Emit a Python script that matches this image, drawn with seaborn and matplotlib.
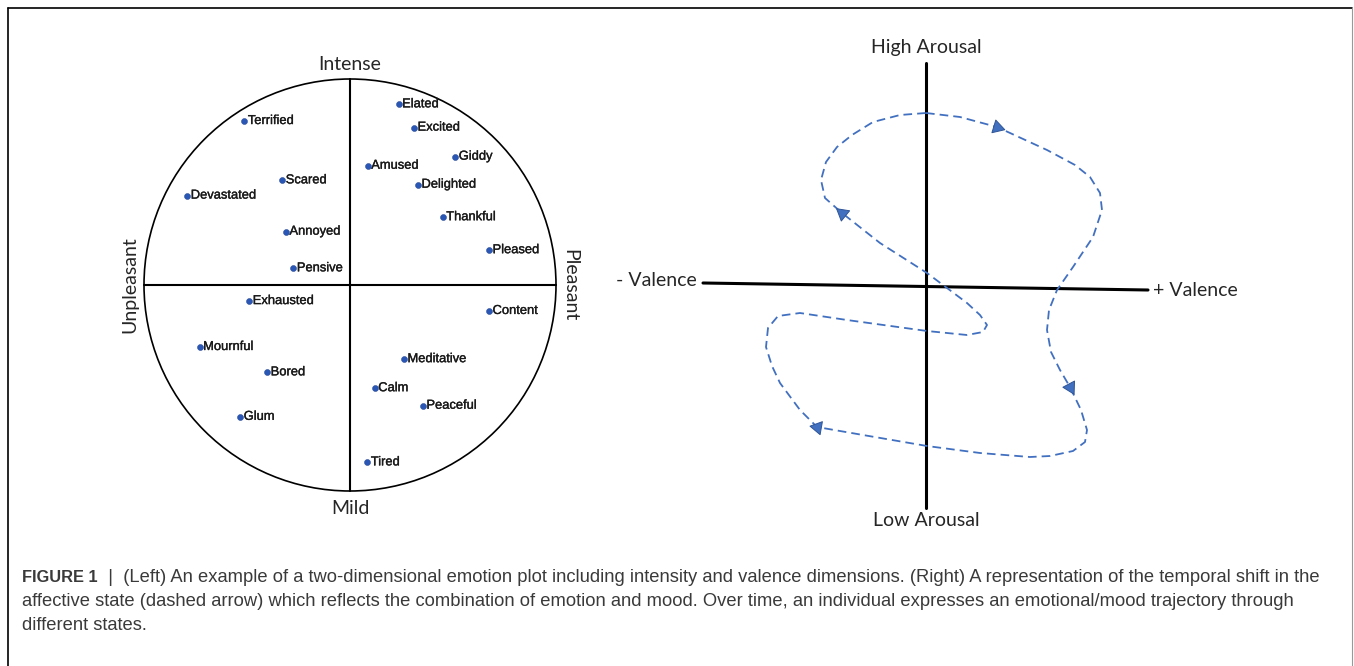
import numpy as np
import pandas as pd
import matplotlib
matplotlib.use("Agg")
import matplotlib.pyplot as plt
import matplotlib.patheffects as pe
import seaborn as sns
from matplotlib.patches import Circle
from matplotlib.lines import Line2D

# emotion words on the left circle (unit radius, x = valence, y = intensity)
emotions = ["Terrified", "Scared", "Devastated", "Annoyed", "Pensive",
            "Elated", "Excited", "Giddy", "Amused", "Delighted", "Thankful", "Pleased",
            "Exhausted", "Mournful", "Bored", "Glum",
            "Content", "Meditative", "Calm", "Peaceful", "Tired"]
valence = [-0.513, -0.329, -0.790, -0.311, -0.275,
           0.236, 0.311, 0.511, 0.086, 0.330, 0.450, 0.675,
           -0.489, -0.730, -0.402, -0.533,
           0.675, 0.262, 0.120, 0.354, 0.084]
intensity = [0.796, 0.508, 0.434, 0.259, 0.081,
             0.877, 0.764, 0.623, 0.579, 0.487, 0.329, 0.169,
             -0.078, -0.301, -0.424, -0.640,
             -0.126, -0.360, -0.501, -0.586, -0.861]

# dashed mood trajectory on the right panel (closed loop)
traj_x = [0, 34, 71, 121, 149, 164, 174, 176, 167, 147, 131, 123, 121, 125, 134, 144,
          155, 161, 159, 147, 124, 104, 54, 1, -63, -109, -126, -146, -154, -160, -158,
          -148, -126, -79, 1, 41, 57, 61, 54, 41, 1, -46, -84, -101, -105, -100, -89,
          -74, -53, -26, 0]
traj_y = [172, 168, 158, 135, 120, 108, 92, 75, 48, 18, -5, -25, -45, -67, -85, -102,
          -125, -145, -157, -166, -171, -172, -168, -161, -150, -142, -125, -98, -81, -62,
          -43, -31, -28, -35, -46, -50, -47, -40, -30, -18, 12, 42, 72, 87, 105, 123, 138,
          150, 163, 170, 172]
arrow_x = [71, 144, -109, -84]
arrow_y = [158, -102, -142, 72]
arrow_angle = [-17, -62, 170, 141]

# axes of the right panel
valence_axis_x = [-223, 222]
valence_axis_y = [2, -5]
arousal_axis_x = [0, 0]
arousal_axis_y = [222, -223]

caption_bold = "FIGURE 1"
caption_lines = [
    "  |  (Left) An example of a two-dimensional emotion plot including intensity and valence dimensions. (Right) A representation of the temporal shift in the",
    "affective state (dashed arrow) which reflects the combination of emotion and mood. Over time, an individual expresses an emotional/mood trajectory through",
    "different states.",
]

sns.set_theme(style="white")
plt.rcParams["font.family"] = ["Lato", "DejaVu Sans"]

W, H = 1354, 666
fig = plt.figure(figsize=(W / 100, H / 100), dpi=100)

dot_col = "#2a57b5"
line_col = "#4270c0"

# ---- left panel: emotion circle
ax1 = fig.add_axes([100 / W, (H - 530) / H, 500 / W, 490 / H])
ax1.set_xlim(-250 / 206, 250 / 206)
ax1.set_ylim(-245 / 206, 245 / 206)
ax1.axis("off")
ax1.add_patch(Circle((0, 0), 1, fill=False, ec="black", lw=1.2))
ax1.plot([-1, 1], [0, 0], color="black", lw=1.5)
ax1.plot([0, 0], [-1, 1], color="black", lw=1.5)

df = pd.DataFrame({"emotion": emotions, "valence": valence, "intensity": intensity})
sns.scatterplot(data=df, x="valence", y="intensity", ax=ax1, color=dot_col,
                s=19, edgecolor="#1d3f8a", linewidth=0.3, legend=False, zorder=4)
thick = [pe.withStroke(linewidth=0.25, foreground="#1a1a1a")]
for _, r in df.iterrows():
    ax1.text(r.valence + 0.017, r.intensity, r.emotion, fontsize=9.3,
             family="Liberation Sans", color="#1a1a1a", ha="left", va="center",
             path_effects=thick)

ax1.text(0, 1.068, "Intense", fontsize=14, ha="center", va="center")
ax1.text(0, -1.087, "Mild", fontsize=14, ha="center", va="center")
ax1.text(-1.068, 0, "Unpleasant", fontsize=14, ha="center", va="center", rotation=90)
ax1.text(1.068, 0, "Pleasant", fontsize=14, ha="center", va="center", rotation=270)

# ---- right panel: affect trajectory
ax2 = fig.add_axes([650 / W, (H - 540) / H, 650 / W, 520 / H])
ax2.set_xlim(-276, 374)
ax2.set_ylim(-255, 265)
ax2.axis("off")
ax2.plot(valence_axis_x, valence_axis_y, color="black", lw=2.2)
ax2.plot(arousal_axis_x, arousal_axis_y, color="black", lw=2.2)

tr = pd.DataFrame({"x": traj_x, "y": traj_y})
sns.lineplot(data=tr, x="x", y="y", ax=ax2, sort=False, estimator=None,
             color=line_col, lw=1.3, linestyle=(0, (4.8, 2.8)))
for xa, ya, ang in zip(arrow_x, arrow_y, arrow_angle):
    ax2.scatter([xa], [ya], marker=(3, 0, ang - 90), s=120, color=line_col,
                edgecolor="#2f5597", linewidth=0.7, zorder=5)

ax2.text(0, 238, "High Arousal", fontsize=14, ha="center", va="center")
ax2.text(0, -235, "Low Arousal", fontsize=14, ha="center", va="center")
ax2.text(-229, 5, "- Valence", fontsize=14, ha="right", va="center")
ax2.text(227, -5, "+ Valence", fontsize=14, ha="left", va="center")

# ---- frame and caption
fig.add_artist(Line2D([8 / W, 8 / W], [0, 1 - 8 / H], color="black", lw=1.2))
fig.add_artist(Line2D([8 / W, 1352 / W], [1 - 8 / H, 1 - 8 / H], color="black", lw=1.2))
fig.add_artist(Line2D([1352 / W, 1352 / W], [0, 1 - 8 / H], color="#999999", lw=0.8))

cap_kw = dict(family="Liberation Sans", color="#3a3a3a", va="center")
tb = fig.text(22 / W, 1 - 577 / H, caption_bold, fontweight="bold", fontsize=11.8, **cap_kw)
fig.canvas.draw()
bb = tb.get_window_extent()
fig.text(bb.x1 / W, 1 - 577 / H, caption_lines[0], fontsize=13.2, **cap_kw)
fig.text(22 / W, 1 - 601 / H, caption_lines[1], fontsize=13.2, **cap_kw)
fig.text(22 / W, 1 - 625 / H, caption_lines[2], fontsize=13.2, **cap_kw)

fig.savefig("out.png", dpi=100)
